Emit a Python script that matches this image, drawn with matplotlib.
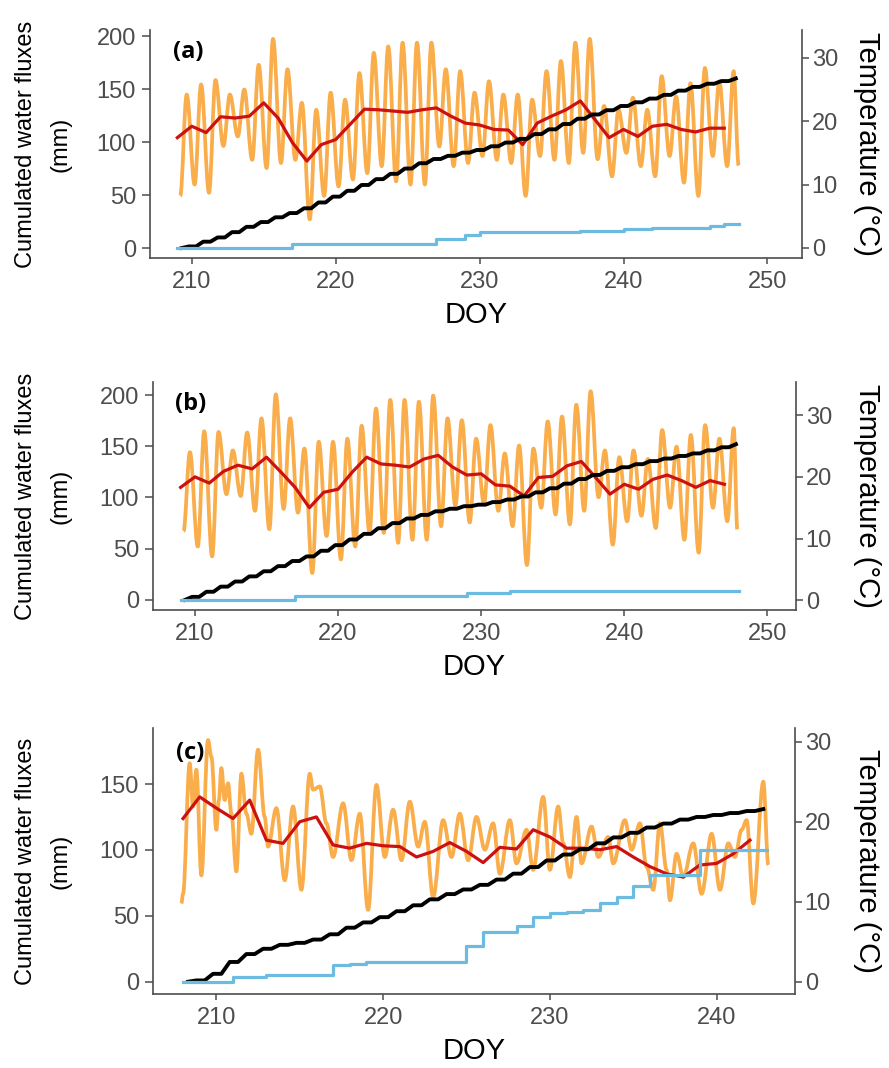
import numpy as np
import matplotlib.pyplot as plt
from matplotlib.path import Path
from matplotlib.patches import PathPatch

plt.rcParams['font.family'] = ['Liberation Sans', 'DejaVu Sans']

# ---- site (a) ----
a_days = np.arange(209, 248)
a_tmin = [8.2, 10.0, 8.7, 16.1, 17.6, 13.9, 12.6, 13.4, 13.9, 4.5,
          8.2, 9.7, 10.8, 11.8, 12.9, 10.5, 10.0, 10.0, 16.0, 12.9,
          13.4, 14.5, 13.9, 13.4, 8.2, 14.5, 13.9, 13.4, 15.0, 14.0,
          11.3, 15.0, 12.9, 11.3, 14.5, 10.3, 8.2, 14.5, 12.9]
a_tmax = [24.2, 25.8, 26.5, 24.2, 25.0, 28.9, 33.0, 28.2, 22.9, 21.8,
          24.5, 23.4, 27.6, 30.8, 31.8, 32.4, 32.4, 32.4, 28.2, 27.9,
          24.5, 26.3, 24.2, 24.2, 23.4, 27.9, 29.5, 32.4, 33.0, 22.4,
          21.8, 23.7, 21.8, 27.1, 23.9, 26.0, 28.4, 26.3, 27.9]
a_tend = (248.0, 13.0)
a_tmean = [17.4, 19.2, 18.2, 20.7, 20.5, 20.8, 22.9, 20.5, 16.6, 13.7,
           16.3, 17.1, 19.5, 21.9, 21.8, 21.6, 21.4, 21.8, 22.1, 20.8,
           19.7, 19.4, 18.7, 18.6, 16.3, 19.7, 20.8, 21.8, 23.2, 20.3,
           17.4, 18.7, 17.6, 19.2, 19.5, 18.7, 18.3, 18.9, 18.9]
a_cum_days = np.arange(209, 249)
a_et = [0, 1.5, 6, 10, 15, 20, 24.5, 29, 33, 37.5,
        43, 48.5, 54, 59.5, 65, 70, 75, 80, 84, 87,
        90, 92.5, 96, 99.5, 103, 107.5, 112, 117, 122, 126,
        130, 134, 137.5, 141, 144.5, 148.5, 152, 155, 157.5, 160]
a_drain = [0, 0, 0, 0, 0, 0, 0, 0, 3.5, 3.5,
           3.5, 3.5, 3.5, 3.5, 3.5, 3.5, 3.5, 3.5, 8.5, 8.5,
           12.5, 15, 15, 15, 15, 15, 15, 15, 16, 16,
           16, 17.5, 17.5, 19, 19, 19, 19, 20.5, 23, 23]

# ---- site (b) ----
b_days = np.arange(209, 248)
b_tmin = [11.2, 8.7, 7.1, 17.2, 16.9, 14.5, 11.5, 14.8, 14.2, 4.4,
          10.4, 6.6, 8.7, 10.9, 10.9, 9.3, 9.8, 9.8, 12.0, 15.3,
          12.6, 15.6, 14.5, 12.0, 5.7, 15.0, 13.9, 12.3, 14.5, 16.7,
          9.0, 12.8, 13.7, 11.7, 15.0, 9.8, 7.7, 15.0, 12.8]
b_tmax = [24.0, 27.4, 27.3, 24.3, 27.2, 29.5, 33.4, 29.5, 24.6, 25.7,
          25.7, 26.2, 28.3, 31.1, 32.5, 32.5, 32.2, 33.2, 29.5, 29.2,
          26.2, 28.4, 23.8, 25.1, 24.6, 29.0, 29.8, 31.7, 33.9, 24.3,
          23.2, 24.3, 22.9, 27.6, 24.9, 26.8, 28.4, 26.2, 27.9]
b_tend = (247.9, 11.5)
b_tmean = [18.3, 20.0, 19.0, 20.9, 21.9, 21.3, 23.2, 20.8, 18.3, 15.0,
           17.5, 18.0, 20.8, 23.2, 22.1, 21.9, 21.6, 22.9, 23.5, 21.6,
           20.3, 20.5, 18.7, 18.5, 16.9, 19.9, 20.1, 21.8, 22.5, 19.9,
           17.2, 18.8, 18.0, 19.6, 20.3, 19.4, 18.3, 19.4, 18.8]
b_cum_days = np.arange(209, 249)
b_et = [0, 3, 8, 13, 18, 23, 28, 33, 38, 42.5,
        48, 53.5, 59, 64.5, 70, 75, 79.5, 83, 86.5, 89,
        91.5, 93, 95.5, 98, 101, 105, 109, 113.5, 118, 122,
        126, 129.5, 132.5, 135.5, 138, 140.5, 143, 146, 149, 152]
b_drain = [0, 0, 0, 0, 0, 0, 0, 0, 4, 4,
           4, 4, 4, 4, 4, 4, 4, 4, 4, 4,
           6.5, 6.5, 6.5, 8.5, 8.5, 8.5, 8.5, 8.5, 8.5, 8.5,
           8.5, 8.5, 8.5, 8.5, 8.5, 8.5, 8.5, 8.5, 8.5, 8.5]

# ---- site (c) ----
c_hour_doy = [207.9, 208.0, 208.4, 208.6, 208.8, 209.1, 209.5, 209.7, 210.0, 210.15,
              210.3, 210.5, 210.7, 210.9, 211.2, 211.5, 211.8, 212.1, 212.5, 212.9,
              213.1, 213.6, 214.1, 214.6, 215.1, 215.6, 215.8, 216.2, 216.6, 217.0,
              217.6, 218.1, 218.6, 219.1, 219.6, 220.1, 220.6, 221.1, 221.6, 222.1,
              222.5, 223.0, 223.6, 224.1, 224.6, 225.1, 225.6, 226.1, 226.6, 227.0,
              227.6, 228.0, 228.6, 229.0, 229.6, 230.0, 230.5, 230.8, 231.2, 231.6,
              231.9, 232.5, 232.9, 233.5, 233.8, 234.5, 234.9, 235.4, 235.8, 236.2,
              236.6, 237.0, 237.2, 237.6, 238.0, 238.6, 239.1, 239.7, 240.2, 240.7,
              241.1, 241.5, 241.8, 242.2, 242.8, 243.1]
c_hour_temp = [9.8, 11.0, 27.3, 21.9, 26.5, 13.3, 30.2, 28.1, 19.0, 22.7,
               26.7, 22.7, 24.8, 21.0, 13.8, 26.0, 21.0, 18.5, 29.0, 20.6,
               16.9, 21.7, 12.7, 21.9, 11.5, 26.0, 24.0, 24.4, 19.8, 15.6,
               22.3, 15.2, 21.0, 9.0, 24.6, 15.6, 21.5, 15.2, 22.5, 16.9,
               20.0, 10.6, 20.2, 15.6, 21.0, 15.2, 20.6, 16.5, 19.8, 13.5,
               20.2, 14.8, 19.0, 14.0, 23.1, 14.0, 21.9, 17.3, 13.1, 20.6,
               14.8, 19.4, 15.6, 18.1, 14.8, 20.2, 16.5, 19.8, 14.4, 11.5,
               19.8, 14.0, 10.2, 16.0, 13.1, 17.3, 11.0, 18.5, 11.5, 17.3,
               15.6, 19.0, 20.2, 9.8, 25.0, 14.6]
c_days = np.arange(208, 243)
c_tmean = [20.4, 23.1, 21.7, 20.4, 22.7, 17.7, 17.3, 20.0, 20.6, 17.1,
           16.7, 17.3, 17.0, 16.9, 15.6, 16.3, 17.4, 16.3, 14.9, 16.8,
           16.6, 19.0, 18.1, 16.7, 16.7, 16.5, 16.9, 15.6, 14.4, 13.5,
           13.1, 14.6, 14.8, 16.0, 17.7]
c_cum_days = np.arange(208, 244)
c_et = [0, 1, 6, 15, 21, 25, 28, 29.5, 32, 36,
        41, 45, 49, 53.5, 58, 62.5, 66.5, 70, 73.5, 77.5,
        82, 87, 92, 96.5, 100.5, 105, 109.5, 113, 117, 120,
        123, 125, 126.5, 128, 129.5, 131]
c_drain = [0, 0, 0, 3.3, 3.3, 5, 5, 5, 5, 12.5,
           13.5, 15, 15, 15, 15, 15, 15, 27, 38, 38,
           42, 49, 52, 53, 54.5, 60, 64, 73, 81, 81,
           81, 100, 100, 100, 100, 100]

ORANGE = '#F9AD4B'
RED = '#CC1111'
BLUE = '#6CBBE0'
GREY = '#4D4D4D'

W, H = 889, 1068


def diurnal(days, tmin, tmax, end):
    # alternate morning minimum and afternoon maximum for each day
    x, y = [], []
    for d, lo, hi in zip(days, tmin, tmax):
        x += [d + 0.2, d + 0.65]
        y += [lo, hi]
    x.append(end[0])
    y.append(end[1])
    return x, y


def wave_path(x, y):
    # cubic segments with flat tangents at every reading, so the
    # min/max sequence draws as a rounded daily wave
    verts = [(x[0], y[0])]
    codes = [Path.MOVETO]
    for i in range(1, len(x)):
        dx = x[i] - x[i - 1]
        verts += [(x[i - 1] + 0.36 * dx, y[i - 1]),
                  (x[i] - 0.36 * dx, y[i]),
                  (x[i], y[i])]
        codes += [Path.CURVE4] * 3
    return Path(verts, codes)


def daily_stairs(days, cum):
    # flat overnight, rising through the day
    x, y = [], []
    for i in range(len(days) - 1):
        x += [days[i] + 0.3, days[i] + 0.8]
        y += [cum[i], cum[i + 1]]
    return x, y


def panel(box, xlim, ylim_mm, ylim_t, xticks, yticks, tag,
          tx, ty, tmean_x, tmean, et_x, et, dr_x, dr):
    left, right, top, bottom = box
    ax = fig.add_axes([left / W, 1 - bottom / H, (right - left) / W, (bottom - top) / H])
    axt = ax.twinx()
    ax.set_zorder(axt.get_zorder() + 1)
    ax.patch.set_visible(False)

    axt.add_patch(PathPatch(wave_path(tx, ty), fill=False, edgecolor=ORANGE,
                            lw=2.7, joinstyle='round'))
    axt.plot(tmean_x, tmean, color=RED, lw=2.3)
    sx, sy = daily_stairs(et_x, et)
    ax.plot(sx, sy, color='black', lw=2.8)
    ax.plot(dr_x, dr, color=BLUE, lw=2.3, drawstyle='steps-post')

    ax.set_xlim(*xlim)
    ax.set_ylim(*ylim_mm)
    axt.set_ylim(*ylim_t)
    ax.set_xticks(xticks)
    ax.set_yticks(yticks)
    axt.set_yticks([0, 10, 20, 30])

    for a in (ax, axt):
        a.spines['top'].set_visible(False)
        for s in a.spines.values():
            s.set_color(GREY)
            s.set_linewidth(1.2)
        a.tick_params(colors=GREY, labelsize=17, width=1.1)
    ax.tick_params(axis='x', length=4, pad=5)
    ax.tick_params(axis='y', length=6, pad=4)
    axt.tick_params(axis='y', length=5, pad=2)
    ax.spines['right'].set_visible(False)
    axt.spines['left'].set_visible(False)
    axt.spines['bottom'].set_visible(False)

    ax.text(0.058, 0.905, tag, transform=ax.transAxes, ha='center', va='center',
            fontsize=17, fontweight='bold', family=['Open Sans', 'DejaVu Sans'])

    ymid = 1 - (top + bottom) / 2 / H
    fig.text(43 / W, ymid, 'Cumulated water fluxes\n(mm)', rotation=90,
             ha='center', va='center', fontsize=17, linespacing=1.75)
    fig.text(867 / W, ymid, 'Temperature (\u00b0C)', rotation=270,
             ha='center', va='center', fontsize=21)
    fig.text((left + right) / 2 / W, 1 - (bottom + 57) / H, 'DOY',
             ha='center', va='center', fontsize=21)


fig = plt.figure(figsize=(W / 100, H / 100), dpi=100)

ax_x, ax_y = diurnal(a_days, a_tmin, a_tmax, a_tend)
panel((150, 802, 30, 258), (207.1, 252.4), (-9.4, 205.7), (-1.6, 34.4),
      [210, 220, 230, 240, 250], [0, 50, 100, 150, 200], '(a)',
      ax_x, ax_y, a_days, a_tmean, a_cum_days, a_et, a_cum_days, a_drain)

bx_x, bx_y = diurnal(b_days, b_tmin, b_tmax, b_tend)
panel((153, 796, 382, 610), (207.07, 252.0), (-9.8, 212.7), (-1.6, 35.4),
      [210, 220, 230, 240, 250], [0, 50, 100, 150, 200], '(b)',
      bx_x, bx_y, b_days, b_tmean, b_cum_days, b_et, b_cum_days, b_drain)

panel((153, 795, 728, 994), (206.2, 244.7), (-9.3, 192.5), (-1.5, 31.7),
      [210, 220, 230, 240], [0, 50, 100, 150], '(c)',
      c_hour_doy, c_hour_temp, c_days, c_tmean, c_cum_days, c_et, c_cum_days, c_drain)

fig.savefig('out.png', dpi=100)
